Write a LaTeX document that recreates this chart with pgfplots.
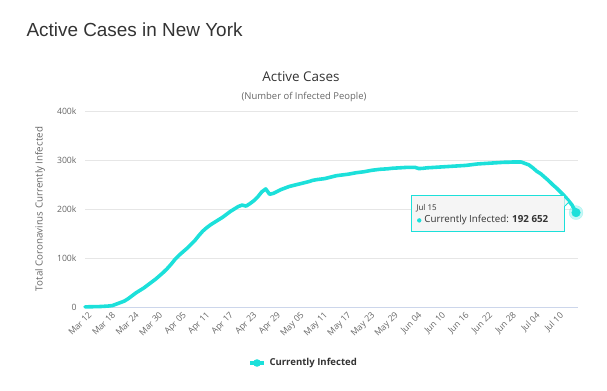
\documentclass[border=0pt]{standalone}
\usepackage{pgfplots}
\pgfplotsset{compat=1.18}
\usepackage{fontspec}
\setmainfont{Open Sans}
\newfontfamily\titlefont{Liberation Sans}
\definecolor{line}{HTML}{1CE0DA}
\definecolor{grid}{HTML}{E6E6E6}
\definecolor{axisl}{HTML}{CCD6EB}
\definecolor{txt}{HTML}{333333}
\definecolor{tick}{HTML}{666666}
\begin{document}
\begin{tikzpicture}
\path[use as bounding box] (0bp,0bp) rectangle (607bp,-391bp);
\node[anchor=west,text=txt,font=\titlefont\fontsize{19}{22}\selectfont] at (23bp,-30bp) {Active Cases in New York};
\node[text=txt,font=\fontsize{13.5}{15}\selectfont] at (301bp,-77bp) {Active Cases};
\node[text=tick,font=\fontsize{9.5}{11}\selectfont] at (304bp,-97bp) {(Number of Infected People)};
\begin{axis}[
  at={(85bp,-307bp)}, anchor=south west,
  scale only axis, width=493bp, height=196bp,
  xmin=0, xmax=125.5, ymin=0, ymax=400000,
  axis x line*=bottom,
  axis y line*=left,
  x axis line style={color=axisl, line width=0.8pt, -},
  y axis line style={draw=none},
  ymajorgrids, grid style={color=grid, line width=0.6pt},
  major tick length=0pt,
  xtick={0,6,...,120},
  xticklabels={Mar 12,Mar 18,Mar 24,Mar 30,Apr 05,Apr 11,Apr 17,Apr 23,Apr 29,May 05,May 11,May 17,May 23,May 29,Jun 04,Jun 10,Jun 16,Jun 22,Jun 28,Jul 04,Jul 10},
  xticklabel style={rotate=45, anchor=north east, font=\fontsize{8.7}{10}\selectfont, text=tick, inner sep=1pt, yshift=-4pt},
  ytick={0,100000,200000,300000,400000},
  yticklabels={0,100k,200k,300k,400k},
  yticklabel style={font=\fontsize{8.7}{10}\selectfont, text=tick, xshift=-5pt},
  scaled y ticks=false,
  clip=false,
]
\addplot[color=line, line width=3.6pt, line join=round, line cap=round] coordinates {
(0,300)(2,600)(4,1000)(6,2000)(7,3000)(8,6000)(9,9000)(10,12000)(11,17000)(12,23000)
(13,29000)(14,34000)(15,39000)(16,45000)(17,51000)(18,57000)(19,64000)(20,71000)
(21,79000)(22,88000)(23,98000)(24,106000)(25,113000)(26,120000)(27,128000)(28,136000)
(29,146000)(30,155000)(31,162000)(32,168000)(33,173000)(34,178000)(35,183000)(36,189000)
(37,195000)(38,200000)(39,205000)(40,208000)(41,206000)(42,211000)(43,217000)(44,225000)
(45,235000)(46,241000)(47,230000)(48,232000)(49,236000)(50,240000)(51,243000)(52,246000)
(53,248000)(54,250000)(55,252000)(56,254000)(57,256000)(58,258500)(59,260000)(60,261000)
(61,262000)(62,264000)(63,266000)(64,268000)(65,269000)(66,270000)(67,271000)(68,272500)
(69,274000)(70,275000)(71,276000)(72,277500)(73,279000)(74,280000)(75,281000)(76,281500)
(77,282000)(78,283000)(79,283500)(80,284000)(81,284500)(82,285000)(83,285000)(84,285000)
(85,282500)(86,283000)(87,284000)(88,284500)(89,285000)(90,285500)(91,286000)(92,286500)
(93,287000)(94,287500)(95,288000)(96,288500)(97,289000)(98,290000)(99,291000)(100,292000)
(101,292500)(102,293000)(103,293500)(104,294000)(105,294500)(106,295000)(107,295500)(108,295500)
(109,296000)(110,296000)(111,296000)(112,293000)(113,290000)(114,284000)(115,277000)(116,272000)
(117,265000)(118,258000)(119,250000)(120,243000)(121,235000)(122,227000)(123,218000)(124,208000)
(125,192652)
};
\addplot[only marks, mark=*, mark size=7pt, color=line, opacity=0.25, forget plot] coordinates {(125,192652)};
\addplot[only marks, mark=*, mark size=4.3pt, color=line, mark options={draw=line, line width=0.5pt}, forget plot] coordinates {(125,192652)};
\node[draw=line, fill=white!96!black, line width=0.8pt, minimum width=153bp, minimum height=36bp, anchor=east, inner sep=0pt] (tt) at (axis cs:122.2,191000) {};
\fill[white!96!black] ([xshift=-0.6pt,yshift=-3bp]tt.north east) -- ++(4bp,-4bp) -- ++(-4bp,-4bp) -- cycle;
\draw[line, line width=0.8pt] ([yshift=-3bp]tt.north east) -- ++(4bp,-4bp) -- ++(-4bp,-4bp);
\node[anchor=west, font=\fontsize{8}{9}\selectfont, text=txt, inner sep=0pt] at ([xshift=5bp,yshift=5bp]tt.west) {Jul 15};
\fill[line] ([xshift=8bp,yshift=-7bp]tt.west) circle (2.2bp);
\node[anchor=west, font=\fontsize{9.8}{11}\selectfont, text=txt, inner sep=0pt] at ([xshift=13bp,yshift=-7bp]tt.west) {Currently Infected: \textbf{192 652}};
\end{axis}
\node[rotate=90, text=tick, font=\fontsize{9.8}{11}\selectfont] at (40bp,-209bp) {Total Coronavirus Currently Infected};
\draw[line, line width=3.6pt] (250bp,-363bp) -- (264bp,-363bp);
\fill[line] (257bp,-363bp) circle (3.8bp);
\node[anchor=west, text=txt, font=\bfseries\fontsize{9.6}{11}\selectfont] at (266bp,-363bp) {Currently Infected};
\end{tikzpicture}
\end{document}
